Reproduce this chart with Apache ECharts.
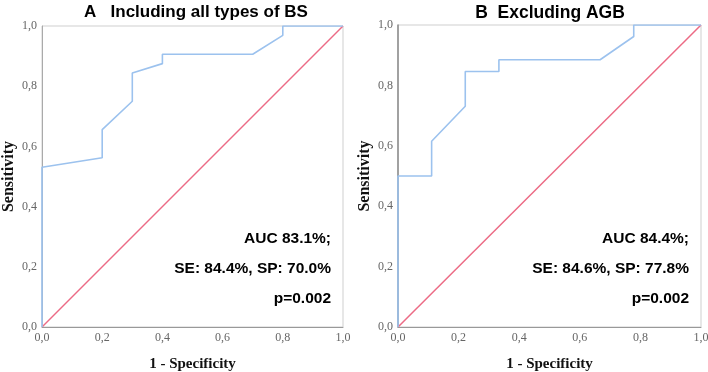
<!DOCTYPE html>
<html>
<head>
<meta charset="utf-8">
<script src="https://cdn.jsdelivr.net/npm/echarts@6/dist/echarts.min.js"></script>
<style>
  html, body { margin: 0; padding: 0; background: #fff; }
  #chart { width: 708px; height: 372px; }
</style>
</head>
<body>
<div id="chart"></div>
<script>
// ROC curve A: all types of BS (1 - specificity, sensitivity)
var rocA = [
  [0, 0], [0, 0.531], [0.2, 0.5625], [0.2, 0.656], [0.3, 0.75], [0.3, 0.844],
  [0.4, 0.875], [0.4, 0.906], [0.7, 0.906], [0.8, 0.969], [0.8, 1], [1, 1]
];
// ROC curve B: excluding AGB
var rocB = [
  [0, 0], [0, 0.5], [0.111, 0.5], [0.111, 0.615], [0.222, 0.731], [0.222, 0.846],
  [0.333, 0.846], [0.333, 0.885], [0.667, 0.885], [0.778, 0.962], [0.778, 1], [1, 1]
];
var refLine = [[0, 0], [1, 1]];
var titles = ['A   Including all types of BS', 'B  Excluding AGB'];
var statsA = ['AUC 83.1%;', 'SE: 84.4%, SP: 70.0%', 'p=0.002'];
var statsB = ['AUC 84.4%;', 'SE: 84.6%, SP: 77.8%', 'p=0.002'];

var chart = echarts.init(document.getElementById('chart'));

var grids = [
  { left: 42, right: 365, top: 26, bottom: 45 },
  { left: 398, right: 7, top: 25, bottom: 45 }
];

function tickFmt(v) {
  return v.toFixed(1).replace('.', ',');
}

function makeX(i) {
  return {
    type: 'value', gridIndex: i, min: 0, max: 1, interval: 0.2,
    name: '1 - Specificity', nameLocation: 'middle', nameGap: 30,
    nameTextStyle: { fontFamily: 'Liberation Serif', fontWeight: 'bold', fontSize: 15, color: '#111' },
    axisLine: { lineStyle: { color: '#999', width: 1 } },
    axisTick: { show: false },
    splitLine: { show: false },
    axisLabel: { formatter: tickFmt, margin: 5, color: '#666', fontFamily: 'Liberation Serif', fontSize: 12 }
  };
}

function makeY(i) {
  return {
    type: 'value', gridIndex: i, min: 0, max: 1, interval: 0.2,
    name: 'Sensitivity', nameLocation: 'middle', nameGap: 25,
    nameTextStyle: { fontFamily: 'Liberation Serif', fontWeight: 'bold', fontSize: 16, color: '#111' },
    axisLine: { lineStyle: { color: i === 0 ? '#aaa' : '#8a8a8a', width: i === 0 ? 1 : 1.5 } },
    axisTick: { show: false },
    splitLine: { show: false },
    axisLabel: { formatter: tickFmt, margin: 5, color: '#666', fontFamily: 'Liberation Serif', fontSize: 12 }
  };
}

function rocSeries(data, i) {
  return {
    type: 'line', xAxisIndex: i, yAxisIndex: i, data: data,
    showSymbol: false, symbol: 'none', z: 4,
    lineStyle: { color: '#9cc2ee', width: 1.6 }
  };
}

function refSeries(i) {
  return {
    type: 'line', xAxisIndex: i, yAxisIndex: i, data: refLine,
    showSymbol: false, symbol: 'none', z: 3,
    lineStyle: { color: '#ec6b85', width: 1.5 }
  };
}

function statText(lines, right) {
  return lines.map(function (t, k) {
    return {
      type: 'text', right: right, top: 231 + k * 30,
      style: { text: t, fontFamily: 'Liberation Sans', fontWeight: 'bold', fontSize: 15.5, fill: '#000' }
    };
  });
}

var option = {
  animation: false,
  title: [
    { text: titles[0], left: 191, top: -1, textAlign: 'center',
      textStyle: { fontFamily: 'Liberation Sans', fontWeight: 'bold', fontSize: 17, color: '#000' } },
    { text: titles[1], left: 545, top: -1, textAlign: 'center',
      textStyle: { fontFamily: 'Liberation Sans', fontWeight: 'bold', fontSize: 17.5, color: '#000' } }
  ],
  grid: grids.map(function (g) {
    return Object.assign({ show: true, borderColor: '#cfcfcf', borderWidth: 1, containLabel: false, outerBoundsMode: 'none' }, g);
  }),
  xAxis: [makeX(0), makeX(1)],
  yAxis: [makeY(0), makeY(1)],
  series: [refSeries(0), rocSeries(rocA, 0), refSeries(1), rocSeries(rocB, 1)],
  graphic: statText(statsA, 377).concat(statText(statsB, 19))
};

chart.setOption(option);
</script>
</body>
</html>
